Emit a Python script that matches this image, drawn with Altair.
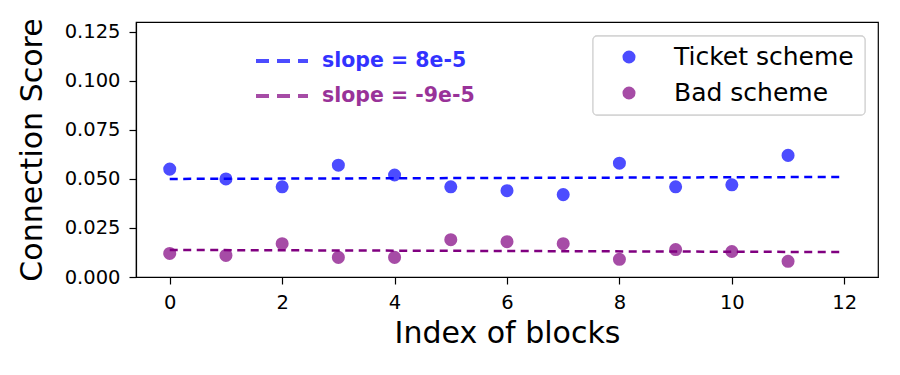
import altair as alt
import pandas as pd

blocks = list(range(12))
ticket = [0.055, 0.050, 0.046, 0.057, 0.052, 0.046, 0.044, 0.042, 0.058, 0.046, 0.047, 0.062]
bad = [0.012, 0.011, 0.017, 0.010, 0.010, 0.019, 0.018, 0.017, 0.009, 0.014, 0.013, 0.008]
series = ["Ticket scheme", "Bad scheme"]
colors = ["#0000ff", "#800080"]
trend_x = [0, 12]
ticket_trend = [0.0500, 0.0510]
bad_trend = [0.0138, 0.0127]
slope_labels = ["slope = 8e-5", "slope = -9e-5"]

pts = pd.DataFrame({
    "block": blocks * 2,
    "score": ticket + bad,
    "scheme": [series[0]] * 12 + [series[1]] * 12,
})
trend = pd.DataFrame({
    "block": trend_x * 2,
    "score": ticket_trend + bad_trend,
    "scheme": [series[0]] * 2 + [series[1]] * 2,
})

xs = alt.Scale(domain=[-0.6, 12.6], nice=False, zero=False)
ys = alt.Scale(domain=[0, 0.13], nice=False)
cs = alt.Scale(domain=series, range=colors)
col = alt.Color("scheme:N", scale=cs, legend=None)

x = alt.X("block:Q", scale=xs, title="Index of blocks",
          axis=alt.Axis(values=[0, 2, 4, 6, 8, 10, 12], format="d", grid=False,
                        titleFontSize=30, titlePadding=7, labelPadding=9))
y = alt.Y("score:Q", scale=ys, title="Connection Score",
          axis=alt.Axis(values=[0, 0.025, 0.05, 0.075, 0.1, 0.125], format=".3f",
                        grid=False, titleFontSize=30, titlePadding=17, labelPadding=9))

points = alt.Chart(pts).mark_point(filled=True, size=170, opacity=0.7, strokeWidth=1.5).encode(
    x=x, y=y, color=col,
)

lines = alt.Chart(trend).mark_line(strokeDash=[8, 5.5], strokeWidth=2.5).encode(
    x=alt.X("block:Q", scale=xs), y=alt.Y("score:Q", scale=ys),
    color=col, detail="scheme:N",
)

# slope annotation (top-left)
ann = pd.DataFrame({"label": slope_labels, "scheme": series, "yy": [39, 74]})
ann_rules = alt.Chart(ann).mark_rule(strokeDash=[13, 8], strokeWidth=4, opacity=0.7).encode(
    x=alt.value(120), x2=alt.value(172), y=alt.Y("yy:Q", scale=None), color=col,
)
ann_text = alt.Chart(ann).mark_text(align="left", baseline="middle", fontSize=20.5,
                                    fontWeight="bold", opacity=0.8).encode(
    x=alt.value(186), y=alt.Y("yy:Q", scale=None), text="label:N", color=col,
)

# legend box (top-right)
leg = pd.DataFrame({"label": series, "scheme": series, "yy": [35, 71]})
leg_box = alt.Chart(leg).mark_rect(fill="white", stroke="#d4d4d4", strokeWidth=1.3,
                                   cornerRadius=4).encode(
    x=alt.value(457), x2=alt.value(729), y=alt.value(14), y2=alt.value(93),
)
leg_sym = alt.Chart(leg).mark_point(filled=True, size=170, opacity=0.7, strokeWidth=1.5).encode(
    x=alt.value(493), y=alt.Y("yy:Q", scale=None), color=col,
)
leg_txt = alt.Chart(leg).mark_text(align="left", baseline="middle", fontSize=25,
                                   color="black").encode(
    x=alt.value(538), y=alt.Y("yy:Q", scale=None), text="label:N",
)

chart = alt.layer(lines, points, ann_rules, ann_text, leg_box, leg_sym, leg_txt).properties(
    width=742, height=255,
    autosize=alt.AutoSizeParams(type="none"),
    padding={"left": 128, "top": 14, "right": 14, "bottom": 90},
).configure_axis(
    labelFontSize=19.5, labelColor="black", titleColor="black", domainColor="black",
    tickColor="black", tickSize=7, labelFont="DejaVu Sans", titleFont="DejaVu Sans",
    titleFontWeight="normal", domainWidth=1.2, tickWidth=1.2,
).configure_text(font="DejaVu Sans").configure_view(
    stroke="black", strokeWidth=1.2
)

chart.save("out.html", embed_options={"renderer": "svg", "actions": False})
